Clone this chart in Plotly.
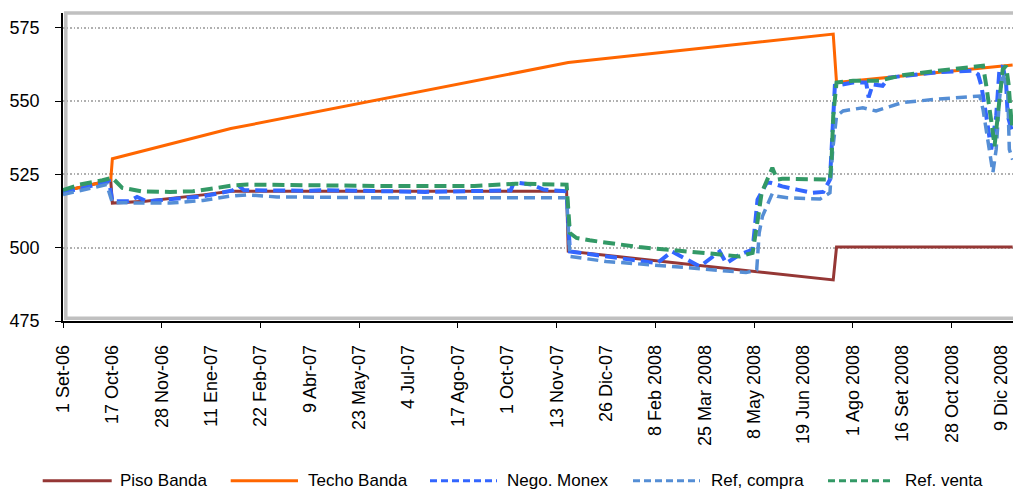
import plotly.graph_objects as go

# Category axis: one step per trading day, a label every 30 days
tick_labels = ["1 Set-06", "17 Oct-06", "28 Nov-06", "11 Ene-07", "22 Feb-07",
               "9 Abr-07", "23 May-07", "4 Jul-07", "17 Ago-07", "1 Oct-07",
               "13 Nov-07", "26 Dic-07", "8 Feb 2008", "25 Mar 2008", "8 May 2008",
               "19 Jun 2008", "1 Ago 2008", "16 Set 2008", "28 Oct 2008", "9 Dic 2008"]
label_step = 30

# Band floor and ceiling (breakpoints, day index -> value)
piso_x = [0, 29, 30, 50, 85, 102, 306, 307, 468, 470, 577]
piso_y = [519.2, 523.0, 515.2, 515.8, 518.0, 519.2, 519.2, 498.8, 489.0, 500.2, 500.2]

techo_x = [0, 29, 30, 102, 307, 468, 470, 577]
techo_y = [519.2, 523.0, 530.3, 540.6, 563.1, 572.8, 556.3, 562.3]

# Market series
nego_x = [0, 10, 28, 30, 40, 45, 51, 65, 85, 103, 107, 110, 120, 150, 160, 200, 220,
          260, 272, 274, 285, 292, 306, 308, 330, 346, 361, 370, 379, 387, 399, 403,
          411, 419, 422, 427.6, 430, 437, 446, 455, 462, 466, 467, 469, 480, 488,
          489.5, 492, 498, 502, 531, 553, 556, 558, 561, 564, 567, 569, 571, 573,
          574, 576.5]
nego_y = [519.0, 520.0, 522.6, 515.8, 515.8, 517.3, 515.8, 516.5, 517.5, 519.5, 521.0,
          519.6, 519.5, 519.4, 519.6, 519.3, 519.0, 519.4, 519.5, 522.3, 521.5, 519.8,
          519.2, 498.7, 497.0, 495.9, 494.7, 498.7, 495.9, 493.6, 498.7, 494.7, 497.6,
          499.3, 516.4, 522.1, 522.1, 520.9, 519.8, 518.7, 519.0, 523.2, 533.5, 555.2,
          556.3, 556.3, 551.2, 555.7, 555.2, 558.0, 559.8, 560.3, 559.1, 555.2, 544.9,
          533.5, 544.9, 560.8, 562.0, 556.4, 545.0, 540.0]

compra_x = [0, 26.5, 30, 65, 85, 101, 112, 130, 200, 306, 308, 330, 370, 415, 421.5,
            423, 425, 427.6, 431, 434, 440, 460, 466, 467.7, 470, 474, 486, 494, 510,
            531, 557, 559, 563, 565, 567, 569, 571, 574, 575, 577]
compra_y = [518.1, 521.5, 515.3, 515.2, 516.1, 517.5, 518.0, 517.3, 517.0, 517.0, 497.0,
            495.3, 493.6, 491.5, 492.4, 505.0, 510.7, 514.1, 518.5, 517.5, 517.0, 516.6,
            518.7, 533.5, 544.9, 546.6, 547.7, 546.6, 549.5, 550.6, 551.7, 547.2, 533.5,
            525.6, 533.5, 550.6, 559.7, 553.0, 533.5, 530.0]

venta_x = [0, 10, 24, 30, 36, 48, 65, 79, 89, 103, 112, 150, 160, 200, 250, 275, 306,
           308, 312, 320, 350, 370, 395, 411, 419, 422, 424.5, 431, 434, 437, 466, 467,
           468, 470, 480, 496, 510, 531, 555, 559, 561, 563, 565, 566, 569, 571, 573,
           574.5, 576.5, 577]
venta_y = [519.6, 521.5, 523.0, 523.8, 520.4, 519.2, 519.0, 519.2, 520.0, 521.2, 521.5,
           521.2, 521.3, 521.0, 521.0, 521.8, 521.5, 505.0, 503.3, 502.5, 500.2, 499.3,
           497.9, 497.0, 498.2, 509.0, 518.7, 527.2, 523.2, 523.5, 523.2, 530.0, 544.9,
           556.3, 556.9, 556.9, 558.8, 560.3, 562.0, 562.0, 555.2, 548.0, 539.2, 534.6,
           551.0, 560.8, 562.0, 556.0, 541.4, 545.0]

# name, x, y, colour, dash in plot, line width, dash in legend
series = [
    ("Piso Banda", piso_x, piso_y, "#953735", "solid", 3, "solid"),
    ("Techo Banda", techo_x, techo_y, "#FF6600", "solid", 3, "solid"),
    ("Nego. Monex", nego_x, nego_y, "#3366FF", "12px,6px", 4, "7px,4px"),
    ("Ref, compra", compra_x, compra_y, "#558ED5", "11px,6px", 3.5, "7px,4px"),
    ("Ref. venta", venta_x, venta_y, "#339966", "12px,6px", 4, "7px,4px"),
]

fig = go.Figure()
for name, xs, ys, color, dash, width, _ in series:
    fig.add_trace(go.Scatter(x=xs, y=ys, name=name, mode="lines",
                             line=dict(color=color, dash=dash, width=width),
                             showlegend=False))

# Overlay axis that only carries the tick marks (every second label)
fig.add_trace(go.Scatter(x=[None], y=[None], xaxis="x2", showlegend=False,
                         hoverinfo="skip"))

tick_pos = [i * label_step for i in range(len(tick_labels))]
mark_pos = tick_pos[::2]

W, H = 1013, 489
ML, MR, MT, MB = 63, 0, 13, 168
PW, PH = W - ML - MR, H - MT - MB
font = "Arial, Liberation Sans, sans-serif"
x_range = [0, PW / 1.6458]

fig.update_layout(
    width=W, height=H,
    margin=dict(l=ML, r=MR, t=MT, b=MB),
    paper_bgcolor="white", plot_bgcolor="white",
    font=dict(family=font, color="#000000"),
    xaxis=dict(range=x_range, tickmode="array", tickvals=tick_pos,
               ticktext=tick_labels, tickangle=-90, ticks="", showgrid=False,
               zeroline=False, showline=True, linecolor="#000000", linewidth=1.5,
               tickfont=dict(size=18, family=font, color="#000000"),
               ticklabelstandoff=15),
    xaxis2=dict(range=x_range, overlaying="x", anchor="y", side="bottom",
                tickmode="array", tickvals=mark_pos, ticks="outside", ticklen=6,
                tickwidth=1.2, tickcolor="#000000", showticklabels=False,
                showgrid=False, zeroline=False, showline=False),
    yaxis=dict(range=[475, 580], tickmode="array", tickvals=[475, 500, 525, 550, 575],
               ticks="outside", ticklen=6, tickwidth=1.2, tickcolor="#000000",
               showline=True, linecolor="#000000", linewidth=1.5,
               showgrid=True, gridcolor="#B0B0B0", griddash="1.5px,2px", gridwidth=1.5,
               zeroline=False, tickfont=dict(size=18, family=font, color="#000000"),
               ticklabelstandoff=12),
)

# Light grey frame around the plotting area
fig.add_shape(type="rect", xref="paper", yref="paper",
              x0=2.8 / PW, x1=1.02, y0=2.7 / PH, y1=1.0,
              line=dict(color="#C0C0C0", width=3.5), layer="below")

# Legend row below the axis
legend_y = (MT + PH - 480.7) / PH
legend_items = [(42.7, 111.7, 118.3), (230.7, 298.0, 306.0), (430.0, 497.0, 505.0),
                (633.0, 700.0, 709.0), (828.0, 893.0, 903.0)]
for (name, _, _, color, _, width, ldash), (lx0, lx1, tx) in zip(series, legend_items):
    fig.add_shape(type="line", xref="paper", yref="paper",
                  x0=(lx0 - ML) / PW, x1=(lx1 - ML) / PW, y0=legend_y, y1=legend_y,
                  line=dict(color=color, width=3, dash=ldash))
    fig.add_annotation(xref="paper", yref="paper", x=(tx - ML) / PW, y=legend_y,
                       text=name, showarrow=False, xanchor="left", yanchor="middle",
                       font=dict(size=17, family=font, color="#000000"))

fig.write_html("out.html")
